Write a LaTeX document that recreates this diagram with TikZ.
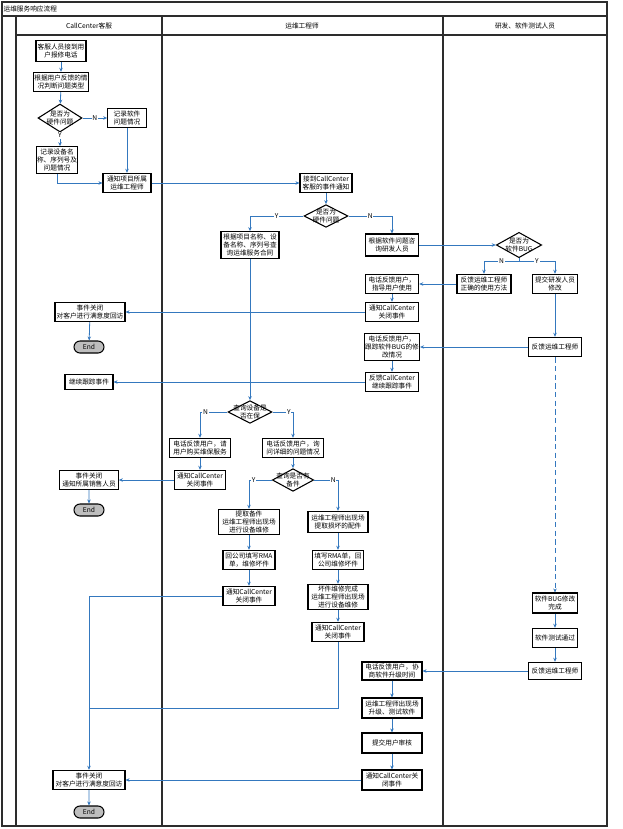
\documentclass[tikz,border=0pt]{standalone}
\usepackage{fontspec}
\setmainfont{Noto Sans CJK SC}
\usetikzlibrary{shapes.geometric, shapes.misc, arrows.meta}
\definecolor{linkblue}{RGB}{52,120,190}
\definecolor{lanegray}{RGB}{45,45,45}
\definecolor{endgray}{RGB}{190,190,190}

\tikzset{
    every node/.style={font=\fontsize{5}{6.3}\selectfont},
    box/.style={draw, fill=white, line width=0.8pt, align=center, inner sep=0.5pt, minimum width=#1, minimum height=14.5pt},
    box/.default=40pt,
    dec/.style={diamond, draw, fill=white, line width=0.8pt, minimum width=33pt, minimum height=17pt, inner sep=0pt},
    term/.style={rounded rectangle, draw, fill=endgray, line width=0.8pt, minimum width=22.5pt, minimum height=9pt, inner sep=0pt},
    flow/.style={draw=linkblue, line width=0.6pt, -{Stealth[length=3pt, width=2.6pt]}},
    flowline/.style={draw=linkblue, line width=0.6pt},
    yn/.style={fill=white, inner sep=0.6pt},
    lane/.style={draw=lanegray, line width=1.1pt},
}

\begin{document}
\begin{tikzpicture}[x=0.75pt, y=-0.75pt]
    \useasboundingbox (0,0) rectangle (622,829);
    \draw[lane] (2,2) rectangle (607,826);
    \draw[lane] (2,16) -- (607,16);
    \draw[lane] (16,35) -- (607,35);
    \draw[lane] (16,16) -- (16,826);
    \draw[lane] (162,16) -- (162,826);
    \draw[lane] (443,16) -- (443,826);
    \node[anchor=west, inner sep=1pt] (title) at (2,9) {运维服务响应流程};
    \node (h1) at (89,26) {CallCenter客服};
    \node (h2) at (302,26) {运维工程师};
    \node (h3) at (525,26) {研发、软件测试人员};

    % CallCenter
    \node[box=37.5pt, minimum height=16pt] (a1) at (61,51) {客服人员接到用\\户报修电话};
    \node[box=38pt] (a2) at (61,82) {根据用户反馈的情\\况判断问题类型};
    \node[dec, minimum height=21pt, label={[align=center]center:是否为\\硬件问题}] (d1) at (60,118) {};
    \node[box=29pt] (a3) at (127,118) {记录软件\\问题情况};
    \node[box=30pt, minimum height=20pt] (a4) at (57,160) {记录设备名\\称、序列号及\\问题情况};
    \node[box=36pt] (a5) at (127,183) {通知项目所属\\运维工程师};
    \node[box=52.5pt] (a6) at (90,312) {事件关闭\\对客户进行满意度回访};
    \node[term] (e1) at (89,347) {End};
    \node[box=36pt, minimum height=11.5pt] (a7) at (89,382) {继续跟踪事件};
    \node[box=44pt] (a8) at (89,480) {事件关闭\\通知所属销售人员};
    \node[term] (e2) at (89,510) {End};
    \node[box=54pt] (a9) at (89,780) {事件关闭\\对客户进行满意度回访};
    \node[term] (e3) at (89,812) {End};

    % engineer
    \node[box=39pt] (b1) at (326,183) {接到CallCenter\\客服的事件通知};
    \node[dec, label={[align=center]center:是否为\\硬件问题}] (d2) at (326,216) {};
    \node[box=43.5pt, minimum height=20pt] (b2) at (250,245) {根据项目名称、设\\备名称、序列号查\\询运维服务合同};
    \node[box=40pt, minimum height=16.5pt] (b3) at (392,245) {根据软件问题咨\\询研发人员};
    \node[box=40pt] (b4) at (392,284) {电话反馈用户，\\指导用户使用};
    \node[box=40pt] (b5) at (392,312) {通知CallCenter\\关闭事件};
    \node[box=40pt, minimum height=20pt] (b6) at (392,347) {电话反馈用户，\\跟踪软件BUG的修\\改情况};
    \node[box=40pt] (b7) at (392,382) {反馈CallCenter\\继续跟踪事件};
    \node[dec, label={[align=center]center:查询设备是\\否在保}] (d4) at (250,412) {};
    \node[box=46pt] (b8) at (200,448) {电话反馈用户，请\\用户购买维保服务};
    \node[box=46pt] (b9) at (293,448) {电话反馈用户，询\\问详细的问题情况};
    \node[box=38pt] (b10) at (200,480) {通知CallCenter\\关闭事件};
    \node[dec, minimum width=31pt, label={[align=center]center:查询是否有\\备件}] (d5) at (293,480) {};
    \node[box=46pt, minimum height=19pt] (b11) at (249,522) {提取备件\\运维工程师出现场\\进行设备维修};
    \node[box=45pt, minimum height=16pt] (b12) at (338,522) {运维工程师出现场\\提取损坏的配件};
    \node[box=39pt] (b13) at (249,560) {回公司填写RMA\\单，维修坏件};
    \node[box=38pt] (b14) at (338,560) {填写RMA单，回\\公司维修坏件};
    \node[box=39pt] (b15) at (249,596) {通知CallCenter\\关闭事件};
    \node[box=45pt, minimum height=19pt] (b16) at (338,597) {坏件维修完成\\运维工程师出现场\\进行设备维修};
    \node[box=39pt] (b17) at (338,632) {通知CallCenter\\关闭事件};
    \node[box=45pt, minimum height=13.5pt] (b18) at (392,671) {电话反馈用户，协\\商软件升级时间};
    \node[box=45pt, minimum height=15pt] (b19) at (392,708) {运维工程师出现场\\升级、测试软件};
    \node[box=45pt, minimum height=15pt] (b20) at (392,743) {提交用户审核};
    \node[box=45pt, minimum height=15pt] (b21) at (392,780) {通知CallCenter关\\闭事件};

    % R&D / test
    \node[dec, minimum width=34pt, minimum height=19pt, label={[align=center]center:是否为\\软件BUG}] (d3) at (519,245) {};
    \node[box=40.5pt] (c1) at (484,284) {反馈运维工程师\\正确的使用方法};
    \node[box=34pt] (c2) at (555,284) {提交研发人员\\修改};
    \node[box=40pt] (c3) at (555,347) {反馈运维工程师};
    \node[box=34pt, minimum height=15pt] (c4) at (555,603) {软件BUG修改\\完成};
    \node[box=34pt] (c5) at (555,638) {软件测试通过};
    \node[box=40pt, minimum height=13pt] (c6) at (555,671) {反馈运维工程师};
    \coordinate (d3j) at (519,261);
    \coordinate (b17j) at (338,708);

    \draw[flow] (a1) -- (a2);
    \draw[flow] (a2) -- (d1);
    \draw[flow] (d1) -- node[yn]{N} (a3);
    \draw[flow] (d1.south) -- node[yn, pos=0.2]{Y} (d1.south |- a4.north);
    \draw[flow] (a3) -- (a5);
    \draw[flow] (a4.south) |- (a5.west);
    \draw[flow] (a5) -- (b1);
    \draw[flow] (b1) -- (d2);
    \draw[flow] (d2.west) -| node[yn, pos=0.25]{Y} (b2.north);
    \draw[flow] (d2.east) -| node[yn, pos=0.25]{N} (b3.north);
    \draw[flow] (b3) -- (d3);
    \draw[flowline] (d3.south) -- (d3j);
    \draw[flow] (d3j) -| node[yn, pos=0.25]{N} (c1.north);
    \draw[flow] (d3j) -| node[yn, pos=0.25]{Y} (c2.north);
    \draw[flow] (c1) -- (b4);
    \draw[flow] (b4) -- (b5);
    \draw[flow] (b5) -- (a6);
    \draw[flow] (a6) -- (e1);
    \draw[flow] (c2) -- (c3);
    \draw[flow] (c3) -- (b6);
    \draw[flow] (b6) -- (b7);
    \draw[flow] (b7) -- (a7);
    \draw[flow, dash pattern=on 4pt off 2.5pt] (c3) -- (c4);
    \draw[flow] (c4) -- (c5);
    \draw[flow] (c5) -- (c6);
    \draw[flow] (c6) -- (b18);
    \draw[flow] (b18) -- (b19);
    \draw[flow] (b19) -- (b20);
    \draw[flow] (b20) -- (b21);
    \draw[flow] (b21) -- (a9);
    \draw[flow] (a9) -- (e3);
    \draw[flow] (b2) -- (d4);
    \draw[flow] (d4.west) -| node[yn, pos=0.4]{N} (b8.north);
    \draw[flow] (d4.east) -| node[yn, pos=0.4]{Y} (b9.north);
    \draw[flow] (b8) -- (b10);
    \draw[flow] (b10) -- (a8);
    \draw[flow] (a8) -- (e2);
    \draw[flow] (b9) -- (d5);
    \draw[flow] (d5.west) -| node[yn, pos=0.4]{Y} (b11.north);
    \draw[flow] (d5.east) -| node[yn, pos=0.4]{N} (b12.north);
    \draw[flow] (b11) -- (b13);
    \draw[flow] (b13) -- (b15);
    \draw[flow] (b12) -- (b14);
    \draw[flow] (b14) -- (b16);
    \draw[flow] (b16) -- (b17);
    \draw[flow] (b15.west) -| (a9.north);
    \draw[flowline] (b17.south) -- (b17j) -- (b17j -| a9.north);
\end{tikzpicture}
\end{document}
